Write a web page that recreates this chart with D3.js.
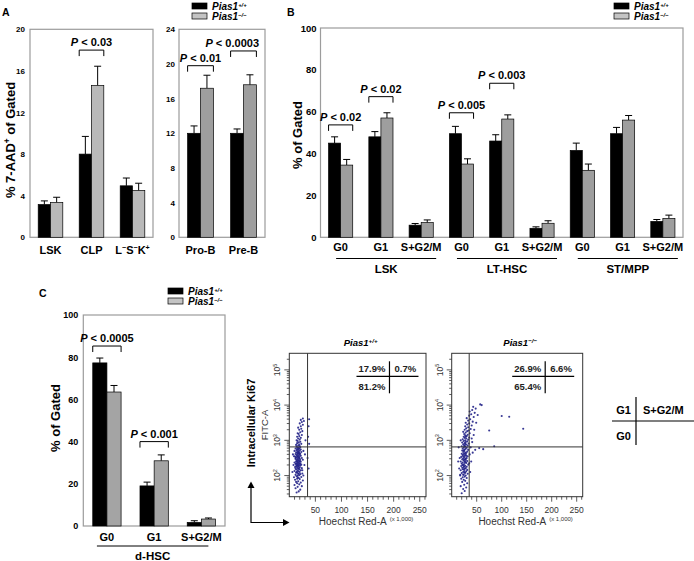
<!DOCTYPE html>
<html>
<head>
<meta charset="utf-8">
<script src="https://cdn.jsdelivr.net/npm/d3@7"></script>
<style>
  body { margin: 0; background: #fff; }
  svg { display: block; }
</style>
</head>
<body>
<svg id="fig" width="694" height="561"></svg>
<script>
// ---------- dati ----------
// Pannello A (sinistra): % 7-AAD+
var catsA1 = ["LSK", "CLP", "L{−}S{−}K{+}"];
var wtA1 = [3.15, 8.0, 4.95];
var wtA1Err = [0.35, 1.7, 0.75];
var koA1 = [3.35, 14.6, 4.5];
var koA1Err = [0.5, 1.85, 0.7];
var ticksA1 = [0, 4, 8, 12, 16, 20];

// Pannello A (destra)
var catsA2 = ["Pro-B", "Pre-B"];
var wtA2 = [12.0, 12.0];
var wtA2Err = [0.85, 0.5];
var koA2 = [17.2, 17.6];
var koA2Err = [1.5, 1.15];
var ticksA2 = [0, 4, 8, 12, 16, 20, 24];

// Pannello B: ciclo cellulare
var catsB = ["G0", "G1", "S+G2/M", "G0", "G1", "S+G2/M", "G0", "G1", "S+G2/M"];
var groupsB = ["LSK", "LT-HSC", "ST/MPP"];
var wtB = [45, 48, 5.8, 49.5, 46, 4.3, 41.5, 49.5, 7.6];
var wtBErr = [3, 2.5, 0.8, 3.5, 3, 0.7, 3.5, 3, 0.9];
var koB = [34.5, 57, 7.0, 35, 56.5, 6.7, 32, 56, 9];
var koBErr = [2.7, 2.5, 1.3, 2.5, 2, 1.2, 3, 2.2, 1.6];
var ticksB = [0, 20, 40, 60, 80, 100];

// Pannello C: d-HSC
var catsC = ["G0", "G1", "S+G2/M"];
var groupsC = ["d-HSC"];
var wtC = [77.3, 19.0, 1.7];
var wtCErr = [2.3, 1.8, 0.8];
var koC = [63.5, 30.9, 3.3];
var koCErr = [3.1, 2.8, 0.5];
var ticksC = [0, 20, 40, 60, 80, 100];

// Parentesi con P-value: [categoria, livello, testo]
var bracketsA1 = [[1, 18.0, "0.03"]];
var bracketsA2 = [[0, 19.8, "0.01"], [1, 21.5, "0.0003"]];
var bracketsB = [[0, 53.7, "0.02"], [1, 67.2, "0.02"], [3, 59.5, "0.005"], [4, 73.6, "0.003"]];
var bracketsC = [[0, 85.3, "0.0005"], [1, 40, "0.001"]];

// Citometria: [Hoechst (x1000), log10 FITC]
var flowWT = [[14,1.52],[18,1.55],[21,1.6],[12,1.64],[16,1.68],[24,1.7],[10,1.73],[19,1.75],[15,1.78],[22,1.8],
  [13,1.82],[17,1.84],[26,1.86],[11,1.88],[20,1.9],[15,1.91],[18,1.93],[9,1.95],[23,1.96],[14,1.98],
  [16,2.0],[19,2.01],[12,2.02],[21,2.04],[17,2.05],[25,2.06],[13,2.08],[15,2.09],[20,2.1],[18,2.12],
  [10,2.13],[16,2.14],[22,2.15],[14,2.17],[19,2.18],[12,2.19],[17,2.2],[24,2.21],[15,2.22],[20,2.23],
  [11,2.24],[18,2.25],[13,2.26],[16,2.27],[21,2.28],[14,2.29],[19,2.3],[23,2.31],[17,2.32],[12,2.33],
  [15,2.34],[20,2.35],[18,2.36],[10,2.37],[16,2.38],[22,2.39],[13,2.4],[19,2.41],[17,2.42],[14,2.43],
  [21,2.44],[15,2.45],[18,2.46],[12,2.47],[20,2.48],[16,2.49],[24,2.5],[13,2.51],[17,2.52],[19,2.53],
  [11,2.54],[15,2.55],[22,2.56],[18,2.57],[14,2.58],[20,2.59],[16,2.6],[12,2.61],[21,2.62],[17,2.63],
  [15,2.64],[19,2.65],[13,2.66],[23,2.67],[18,2.68],[16,2.69],[10,2.7],[20,2.71],[14,2.72],[17,2.73],
  [22,2.74],[15,2.75],[19,2.76],[12,2.77],[18,2.78],[16,2.79],[21,2.8],[14,2.82],[20,2.84],[17,2.85],
  [13,2.87],[19,2.88],[23,2.9],[15,2.92],[18,2.94],[21,2.96],[16,2.98],[14,3.0],[20,3.02],[17,3.05],
  [22,3.07],[15,3.1],[19,3.12],[24,3.15],[18,3.18],[16,3.2],[21,3.23],[25,3.26],[19,3.3],[23,3.33],
  [17,3.36],[22,3.4],[26,3.44],[20,3.48],[24,3.52],[28,3.55],[22,3.58],[26,3.62],[38,3.6],[37,3.4],
  [36,3.1],[38,2.9],[35,2.5],[37,2.2],[30,2.6],[29,2.3],[31,3.0],[27,2.0],[8,2.3],[7,2.6],
  [26,2.45],[25,2.15],[9,2.55],[27,2.7],[6,2.1],[17,2.28],[15,2.4],[19,2.5],[13,2.35],[18,2.2],
  [16,2.55],[14,2.1],[20,2.4],[17,2.65],[15,2.3],[18,2.05],[12,2.5],[21,2.33],[16,1.95],[19,2.62]];

var flowKO = [[20,1.5],[26,1.56],[23,1.62],[29,1.66],[18,1.7],[25,1.74],[31,1.78],[21,1.82],[27,1.85],[24,1.88],
  [19,1.91],[30,1.93],[22,1.95],[26,1.97],[28,2.0],[17,2.02],[24,2.03],[32,2.05],[20,2.07],[27,2.08],
  [23,2.1],[29,2.12],[25,2.13],[18,2.15],[31,2.16],[22,2.18],[26,2.19],[28,2.21],[21,2.22],[24,2.24],
  [30,2.25],[19,2.27],[27,2.28],[23,2.3],[33,2.31],[25,2.33],[20,2.34],[29,2.36],[22,2.37],[26,2.39],
  [18,2.4],[31,2.41],[24,2.43],[28,2.44],[21,2.46],[27,2.47],[23,2.49],[30,2.5],[25,2.52],[19,2.53],
  [32,2.55],[26,2.56],[22,2.58],[28,2.59],[24,2.61],[20,2.62],[29,2.64],[27,2.65],[23,2.67],[31,2.68],
  [25,2.7],[21,2.71],[33,2.73],[26,2.74],[28,2.76],[22,2.77],[30,2.79],[24,2.8],[27,2.82],[20,2.83],
  [32,2.85],[25,2.86],[29,2.88],[23,2.89],[34,2.91],[26,2.92],[21,2.94],[28,2.95],[31,2.97],[24,2.98],
  [27,3.0],[33,3.02],[22,3.03],[29,3.05],[26,3.07],[35,3.08],[24,3.1],[30,3.12],[27,3.14],[32,3.16],
  [25,3.18],[36,3.2],[28,3.22],[23,3.24],[31,3.26],[34,3.28],[26,3.3],[38,3.32],[29,3.34],[33,3.37],
  [27,3.4],[40,3.42],[31,3.45],[35,3.48],[28,3.5],[42,3.53],[33,3.56],[37,3.6],[30,3.63],[44,3.66],
  [35,3.7],[39,3.74],[46,3.78],[36,3.82],[41,3.86],[48,3.9],[43,3.95],[57,4.02],[52,3.72],[49,3.5],
  [45,3.3],[40,3.05],[38,2.8],[42,2.65],[39,2.4],[37,2.1],[36,2.6],[41,2.95],[44,3.15],[35,2.35],
  [15,2.2],[16,2.5],[14,2.8],[17,2.0],[13,2.4],[18,3.0],[100,3.69],[115,3.67],[75,3.28],[143,3.33],
  [85,2.83],[60,4.0],[63,2.75],[55,2.78],[47,2.73],[25,2.26],[27,2.38],[23,2.55],[26,2.62],[24,2.18],
  [28,2.48],[22,2.3],[26,2.08],[25,2.45],[27,2.9],[24,2.72],[29,2.56],[23,2.02],[26,2.84],[28,3.1]];
var flowQuadWT = ["17.9%", "0.7%", "81.2%"];
var flowQuadKO = ["26.9%", "6.6%", "65.4%"];

// ---------- impostazioni ----------
var FONT = "'Liberation Sans', Arial, Helvetica, sans-serif";
var svg = d3.select("#fig").style("font-family", FONT);

// Testo con apici: "Pias1{+/+}"
function rich(sel, str, fs) {
  var parts = str.split(/(\{[^}]*\})/);
  var up = false;
  parts.forEach(function(p) {
    if (!p) return;
    if (p[0] === "{") {
      sel.append("tspan").attr("dy", -0.38 * fs).style("font-size", (fs * 0.65) + "px").text(p.slice(1, -1));
      up = true;
    } else {
      var t = sel.append("tspan").text(p);
      if (up) { t.attr("dy", 0.38 * fs); up = false; }
    }
  });
  return sel;
}

function panelLetter(t, x, y) {
  svg.append("text").attr("x", x).attr("y", y).attr("font-size", 10.5)
    .attr("font-weight", "bold").text(t);
}

function yLabel(str, x, y, fs) {
  var t = svg.append("text")
    .attr("transform", "translate(" + x + "," + y + ") rotate(-90)")
    .attr("text-anchor", "middle").attr("dy", "0.35em")
    .attr("font-size", fs).attr("font-weight", "bold");
  rich(t, str, fs);
}

function legend(x, y, gray) {
  [["#000", "Pias1{+/+}"], [gray, "Pias1{−/−}"]].forEach(function(d, i) {
    svg.append("rect").attr("x", x).attr("y", y + i * 10).attr("width", 15).attr("height", 6)
      .attr("fill", d[0]).attr("stroke", "#000").attr("stroke-width", 0.7);
    var t = svg.append("text").attr("x", x + 20).attr("y", y + 7 + i * 10)
      .attr("font-size", 10).attr("font-weight", "bold").attr("font-style", "italic");
    rich(t, d[1], 9);
  });
}

// Grafico a barre generico (due serie con barre di errore)
function barPanel(p) {
  var n = p.cats.length;
  var x = d3.scaleBand().domain(d3.range(n)).range([p.x0, p.x1]);
  var y = d3.scaleLinear().domain([0, p.max]).range([p.y1, p.y0]);
  var pair = d3.scaleBand().domain([0, 1]).range([0, x.bandwidth()]).paddingOuter(0.667);
  var g = svg.append("g");

  g.append("rect").attr("x", p.x0).attr("y", p.y0)
    .attr("width", p.x1 - p.x0).attr("height", p.y1 - p.y0)
    .attr("fill", "none").attr("stroke", "#9c9c9c").attr("stroke-width", 1.2);

  var ax = g.append("g").attr("transform", "translate(" + p.x0 + ",0)")
    .call(d3.axisLeft(y).tickValues(p.ticks).tickSize(0).tickPadding(p.tickPad));
  ax.select(".domain").remove();
  ax.selectAll("text").attr("font-family", FONT).attr("font-weight", "bold")
    .attr("font-size", p.tickFont).attr("fill", "#000");

  var series = [
    { vals: p.wt, err: p.wtErr, fill: "#000" },
    { vals: p.ko, err: p.koErr, fill: p.gray }
  ];
  series.forEach(function(s, si) {
    g.selectAll(null).data(s.vals).enter().append("path")
      .attr("d", function(d, i) {
        var cx = x(i) + pair(si) + pair.bandwidth() / 2;
        var yt = y(d + s.err[i]);
        return "M" + cx + "," + y(d) + "V" + yt + "M" + (cx - 3.5) + "," + yt + "H" + (cx + 3.5);
      })
      .attr("stroke", "#000").attr("fill", "none").attr("stroke-width", 1);
    g.selectAll(null).data(s.vals).enter().append("rect")
      .attr("x", function(d, i) { return x(i) + pair(si); })
      .attr("y", function(d) { return y(d); })
      .attr("width", pair.bandwidth())
      .attr("height", function(d) { return y(0) - y(d); })
      .attr("fill", s.fill).attr("stroke", "#000").attr("stroke-width", 0.7);
  });

  // etichette categorie
  p.cats.forEach(function(c, i) {
    var t = g.append("text").attr("x", x(i) + x.bandwidth() / 2).attr("y", p.labelY)
      .attr("text-anchor", "middle").attr("font-size", 11).attr("font-weight", "bold");
    rich(t, c, 11);
  });

  // gruppi (linea + nome)
  (p.groups || []).forEach(function(name, gi) {
    var a = x(gi * 3) + x.bandwidth() / 2 + p.lineExt[0];
    var b = x(gi * 3 + 2) + x.bandwidth() / 2 + p.lineExt[1];
    g.append("line").attr("x1", a).attr("x2", b).attr("y1", p.lineY).attr("y2", p.lineY)
      .attr("stroke", "#000").attr("stroke-width", 1);
    g.append("text").attr("x", (a + b) / 2).attr("y", p.groupY).attr("text-anchor", "middle")
      .attr("font-size", 11.5).attr("font-weight", "bold").text(name);
  });

  // parentesi P-value
  p.brackets.forEach(function(b) {
    var a = x(b[0]) + pair(0);
    var c = x(b[0]) + pair(1) + pair.bandwidth();
    var yy = y(b[1]);
    g.append("path").attr("d", "M" + a + "," + (yy + 6) + "V" + yy + "H" + c + "V" + (yy + 6))
      .attr("stroke", "#000").attr("fill", "none").attr("stroke-width", 1);
    var t = g.append("text").attr("x", (a + c) / 2).attr("y", yy - 4)
      .attr("text-anchor", "middle").attr("font-size", 11).attr("font-weight", "bold");
    t.append("tspan").attr("font-style", "italic").text("P");
    t.append("tspan").text(" < " + b[2]);
    var w = t.node().getComputedTextLength();
    if ((a + c) / 2 + w / 2 > p.x1 - 6) t.attr("x", p.x1 - 6 - w / 2);
  });
}

// Grafico di citometria (dot plot)
function flowPlot(f) {
  var x = d3.scaleLinear().domain([0, 262]).range([f.x0, f.x1]);
  var y = d3.scaleLog().domain([Math.pow(10, 1.4), Math.pow(10, 5.47)]).range([f.y1, f.y0]);
  var g = svg.append("g");

  g.selectAll(null).data(f.pts).enter().append("circle")
    .attr("cx", function(d) { return x(d[0]); })
    .attr("cy", function(d) { return y(Math.pow(10, d[1])); })
    .attr("r", 1.05).attr("fill", "#232388").attr("opacity", 0.9);

  g.append("rect").attr("x", f.x0).attr("y", f.y0).attr("width", f.x1 - f.x0).attr("height", f.y1 - f.y0)
    .attr("fill", "none").attr("stroke", "#333").attr("stroke-width", 1);
  g.append("line").attr("x1", x(35)).attr("x2", x(35)).attr("y1", f.y0).attr("y2", f.y1)
    .attr("stroke", "#333").attr("stroke-width", 1);
  g.append("line").attr("x1", f.x0).attr("x2", f.x1).attr("y1", y(650)).attr("y2", y(650))
    .attr("stroke", "#333").attr("stroke-width", 1);

  // tacche asse y (log)
  var yd = y.domain();
  for (var k = 1; k <= 5; k++) {
    for (var m = 1; m <= 9; m++) {
      var v = m * Math.pow(10, k);
      if (v < yd[0] || v > yd[1]) continue;
      var len = m === 1 ? 5 : 2.5;
      g.append("line").attr("x1", f.x0 - len).attr("x2", f.x0).attr("y1", y(v)).attr("y2", y(v))
        .attr("stroke", "#333").attr("stroke-width", 0.8);
    }
  }
  [2, 3, 4, 5].forEach(function(e) {
    var t = g.append("text")
      .attr("transform", "translate(" + (f.x0 - 9) + "," + y(Math.pow(10, e)) + ") rotate(-90)")
      .attr("text-anchor", "middle").attr("font-size", 8.5).attr("fill", "#333");
    rich(t, "10{" + e + "}", 8.5);
  });

  // tacche asse x
  d3.range(10, 261, 10).forEach(function(v) {
    var len = v % 50 === 0 ? 5 : 3;
    g.append("line").attr("x1", x(v)).attr("x2", x(v)).attr("y1", f.y1).attr("y2", f.y1 + len)
      .attr("stroke", "#333").attr("stroke-width", 0.8);
  });
  [50, 100, 150, 200, 250].forEach(function(v) {
    g.append("text").attr("x", x(v)).attr("y", f.y1 + 16).attr("text-anchor", "middle")
      .attr("font-size", 8.5).attr("fill", "#333").text(v);
  });
  var cx = (f.x0 + f.x1) / 2;
  g.append("text").attr("x", cx + 29).attr("y", f.y1 + 28).attr("text-anchor", "end")
    .attr("font-size", 10).attr("fill", "#333").text("Hoechst Red-A");
  g.append("text").attr("x", cx + 32).attr("y", f.y1 + 24).attr("font-size", 6)
    .attr("fill", "#333").text("(x 1,000)");

  var tt = g.append("text").attr("x", cx + 3).attr("y", f.y0 - 7).attr("text-anchor", "middle")
    .attr("font-size", 9.5).attr("font-weight", "bold").attr("font-style", "italic");
  rich(tt, f.title, 9.5);

  // quadranti
  var qx = x(f.qx), qy = f.y0 + 23;
  g.append("line").attr("x1", qx).attr("x2", qx).attr("y1", f.y0 + 8).attr("y2", f.y0 + 40)
    .attr("stroke", "#000").attr("stroke-width", 1.2);
  g.append("line").attr("x1", qx - 33).attr("x2", qx + 29).attr("y1", qy).attr("y2", qy)
    .attr("stroke", "#000").attr("stroke-width", 1.2);
  [[f.quad[0], qx - 4, qy - 4.5, "end"], [f.quad[1], qx + 5, qy - 4.5, "start"], [f.quad[2], qx - 4, qy + 14, "end"]]
    .forEach(function(q) {
      g.append("text").attr("x", q[1]).attr("y", q[2]).attr("text-anchor", q[3])
        .attr("font-size", 9.5).attr("font-weight", "bold").attr("fill", "#222").text(q[0]);
    });
}

// ---------- disegno ----------
panelLetter("A", 2, 16);
panelLetter("B", 287, 16);
panelLetter("C", 39, 297);

barPanel({ cats: catsA1, wt: wtA1, wtErr: wtA1Err, ko: koA1, koErr: koA1Err, max: 20, ticks: ticksA1,
  x0: 30, x1: 153, y0: 29.3, y1: 237.3, gray: "#b9b9b9", tickPad: 5, tickFont: 8,
  labelY: 254, brackets: bracketsA1 });
barPanel({ cats: catsA2, wt: wtA2, wtErr: wtA2Err, ko: koA2, koErr: koA2Err, max: 24, ticks: ticksA2,
  x0: 179, x1: 265, y0: 29.3, y1: 237.3, gray: "#9e9e9e", tickPad: 4, tickFont: 8,
  labelY: 254, brackets: bracketsA2 });
yLabel("% 7-AAD{+} of Gated", 10, 140, 13);
legend(192, 3, "#c4c4c4");

barPanel({ cats: catsB, wt: wtB, wtErr: wtBErr, ko: koB, koErr: koBErr, max: 100, ticks: ticksB,
  x0: 320.5, x1: 683, y0: 28, y1: 237.3, gray: "#9e9e9e", tickPad: 4, tickFont: 9.5,
  labelY: 251, brackets: bracketsB, groups: groupsB, lineExt: [-4.5, 15], lineY: 258.5, groupY: 273 });
yLabel("% of Gated", 297, 135, 13);
legend(614, 3, "#c4c4c4");

barPanel({ cats: catsC, wt: wtC, wtErr: wtCErr, ko: koC, koErr: koCErr, max: 100, ticks: ticksC,
  x0: 83.3, x1: 225, y0: 315, y1: 526, gray: "#a4a4a4", tickPad: 5, tickFont: 9,
  labelY: 540.5, brackets: bracketsC, groups: groupsC, lineExt: [-10, 7], lineY: 546, groupY: 560 });
yLabel("% of Gated", 55, 418, 13);
legend(168, 288, "#c4c4c4");

flowPlot({ pts: flowWT, x0: 289.3, x1: 426, y0: 353.3, y1: 496.7, title: "Pias1{+/+}", qx: 192, quad: flowQuadWT });
flowPlot({ pts: flowKO, x0: 451.7, x1: 582.7, y0: 353.3, y1: 496.7, title: "Pias1{−/−}", qx: 187, quad: flowQuadKO });

// etichette asse y della citometria e frecce
svg.append("text").attr("transform", "translate(265,425) rotate(-90)").attr("text-anchor", "middle")
  .attr("dy", "0.35em").attr("font-size", 9.5).attr("fill", "#333").text("FITC-A");
svg.append("text").attr("transform", "translate(251.5,423) rotate(-90)").attr("text-anchor", "middle")
  .attr("dy", "0.35em").attr("font-size", 11).attr("font-weight", "bold").text("Intracellular Ki67");
svg.append("path").attr("d", "M251,523V487M251,522.5H284").attr("stroke", "#000").attr("stroke-width", 1.2).attr("fill", "none");
svg.append("path").attr("d", "M247.5,488L251,481.5L254.5,488Z").attr("fill", "#000");
svg.append("path").attr("d", "M283,519L289.5,522.5L283,526Z").attr("fill", "#000");

// legenda dei quadranti
svg.append("line").attr("x1", 636).attr("x2", 636).attr("y1", 397).attr("y2", 445).attr("stroke", "#000").attr("stroke-width", 1.2);
svg.append("line").attr("x1", 612).attr("x2", 694).attr("y1", 421).attr("y2", 421).attr("stroke", "#000").attr("stroke-width", 1.2);
[["G1", 631, 414, "end"], ["S+G2/M", 643, 414, "start"], ["G0", 631, 440, "end"]].forEach(function(d) {
  svg.append("text").attr("x", d[1]).attr("y", d[2]).attr("text-anchor", d[3])
    .attr("font-size", 11).attr("font-weight", "bold").text(d[0]);
});
</script>
</body>
</html>
